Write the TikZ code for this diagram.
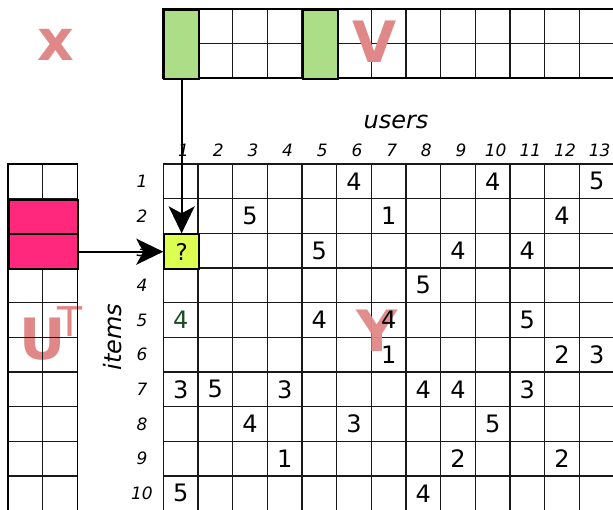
\documentclass[tikz,border=0pt]{standalone}
\usepackage{fontspec}
\setmainfont{DejaVu Sans}
\usetikzlibrary{arrows.meta}
\definecolor{lblred}{RGB}{224,136,136}
\definecolor{vgreen}{RGB}{172,222,136}
\definecolor{upink}{RGB}{255,40,125}
\definecolor{qyellow}{RGB}{221,255,80}
\definecolor{dgreen}{RGB}{25,75,35}
\begin{document}
\begin{tikzpicture}[x=1pt,y=-1pt,
  gridline/.style={line width=1.1pt,black!90},
  thickbox/.style={draw=black,line width=2pt},
  digit/.style={font=\fontsize{24}{24}\selectfont,inner sep=0pt},
  idx/.style={font=\fontsize{17}{17}\selectfont\itshape,inner sep=0pt},
  axlbl/.style={font=\fontsize{24}{24}\selectfont\itshape,inner sep=0pt},
  biglbl/.style={font=\fontsize{57}{57}\selectfont\bfseries,text=lblred,inner sep=0pt},
  arr/.style={line width=2.2pt,-{Stealth[length=27pt,width=26pt,inset=7pt]}}]
\useasboundingbox (0,0) rectangle (613,509);
\clip (0,0) rectangle (613,509);
\def\cw{34.67}
\def\gx{163.3}
\def\gy{164}
\def\vy{8.7}
\def\ux{8}
% --- U^T big label (behind grid)
\node[biglbl] (ulbl) at (42.5,339.5) {U};
\node[font=\fontsize{41}{41}\selectfont,text=lblred,inner sep=0pt] (tlbl) at (70,322) {T};
% --- main grid Y
\foreach \i in {0,...,13} \draw[gridline] ({\gx+\i*\cw},\gy) -- ({\gx+\i*\cw},520);
\foreach \j in {0,...,10} \draw[gridline] (\gx,{\gy+\j*\cw}) -- (620,{\gy+\j*\cw});
% --- V matrix
\draw[gridline] (\gx,{\vy+\cw}) -- (620,{\vy+\cw});
\foreach \i in {1,...,12} \draw[gridline] ({\gx+\i*\cw},\vy) -- ({\gx+\i*\cw},{\vy+2*\cw});
\draw[thickbox] (\gx,\vy) rectangle ({\gx+13*\cw},{\vy+2*\cw});
\node[thickbox,fill=vgreen,minimum width=\cw,minimum height=2*\cw,inner sep=0pt,anchor=north west] (vcol1) at (\gx,\vy) {};
\node[thickbox,fill=vgreen,minimum width=\cw,minimum height=2*\cw,inner sep=0pt,anchor=north west] (vcol5) at ({\gx+4*\cw},\vy) {};
% --- U matrix
\foreach \j in {1,...,9} \draw[gridline] (\ux,{\gy+\j*\cw}) -- ({\ux+2*\cw},{\gy+\j*\cw});
\draw[gridline] ({\ux+\cw},\gy) -- ({\ux+\cw},520);
\draw[line width=1.6pt] (\ux,520) -- (\ux,\gy) -- ({\ux+2*\cw},\gy) -- ({\ux+2*\cw},520);
\node[thickbox,fill=upink,minimum width=2*\cw,minimum height=\cw,inner sep=0pt,anchor=north west] (urow2) at (\ux,{\gy+\cw}) {};
\node[thickbox,fill=upink,minimum width=2*\cw,minimum height=\cw,inner sep=0pt,anchor=north west] (urow3) at (\ux,{\gy+2*\cw}) {};
% --- big labels
\node[biglbl] (xlbl) at (55.5,45) {x};
\node[biglbl] (vlbl) at (375,42) {V};
\node[biglbl,opacity=0.95] (ylbl) at (377.5,331) {Y};
% --- axis labels
\node[axlbl] (users) at (396,122) {users};
\node[axlbl,rotate=90] (items) at (113,337) {items};
\foreach \i in {1,...,13} \node[idx] (c\i) at ({\gx+(\i-0.5)*\cw+3},150) {\i};
\foreach \j in {1,...,10} \node[idx] (r\j) at (142,{\gy+(\j-0.5)*\cw}) {\j};
% --- entries
\foreach \c/\r/\v in {6/1/4, 10/1/4, 13/1/5, 3/2/5, 7/2/1, 12/2/4, 5/3/5, 9/3/4, 11/3/4, 8/4/5, 5/5/4, 7/5/4, 11/5/5, 7/6/1, 12/6/2, 13/6/3, 1/7/3, 2/7/5, 4/7/3, 8/7/4, 9/7/4, 11/7/3, 3/8/4, 6/8/3, 10/8/5, 4/9/1, 9/9/2, 12/9/2, 1/10/5, 8/10/4}
  \node[digit] (y\c-\r) at ({\gx+(\c-0.5)*\cw},{\gy+(\r-0.5)*\cw}) {\v};
\node[digit,text=dgreen] (y1-5) at ({\gx+0.5*\cw},{\gy+4.5*\cw}) {4};
% --- query cell
\node[thickbox,fill=qyellow,minimum width=\cw,minimum height=\cw,inner sep=0pt,anchor=north west,font=\fontsize{23}{23}\selectfont] (q) at (\gx,{\gy+2*\cw}) {?};
% --- arrows
\draw[arr] (vcol1.south) -- (q.north);
\draw[arr] (urow3.east) -- (q.west);
\end{tikzpicture}
\end{document}
